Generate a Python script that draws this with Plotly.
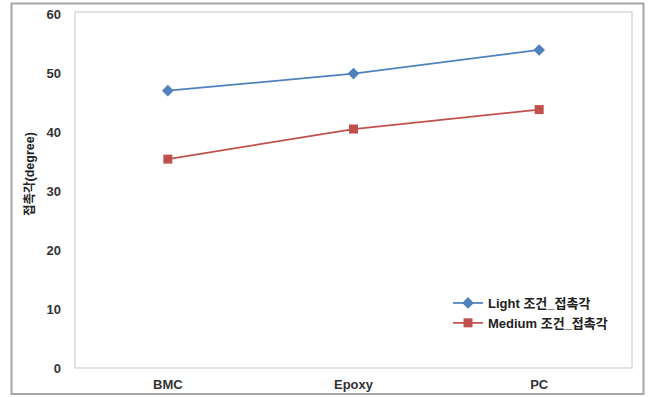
import plotly.graph_objects as go

categories = ["BMC", "Epoxy", "PC"]
light_values = [47.0, 49.9, 53.9]
medium_values = [35.4, 40.5, 43.8]
series_names = ["Light 조건_접촉각", "Medium 조건_접촉각"]
y_ticks = [0, 10, 20, 30, 40, 50, 60]
y_title = "접촉각(degree)"

W, H = 650, 397
L, R, T, B = 75, 18, 14, 29
pw, ph = W - L - R, H - T - B

def px_x(x):
    return (x - L) / pw

def px_y(y):
    return (H - B - y) / ph

font_family = "Liberation Sans, Arial, Noto Sans CJK KR, sans-serif"

fig = go.Figure()
fig.add_trace(go.Scatter(
    x=categories, y=light_values, name=series_names[0], mode="lines+markers",
    line=dict(color="#4F81BD", width=1.75),
    marker=dict(symbol="diamond", size=9, color="#4F81BD"),
))
fig.add_trace(go.Scatter(
    x=categories, y=medium_values, name=series_names[1], mode="lines+markers",
    line=dict(color="#C0504D", width=1.75),
    marker=dict(symbol="square", size=9, color="#C0504D"),
))

# plot area frame and outer chart frame
fig.add_shape(type="rect", xref="paper", yref="paper",
              x0=0, x1=1, y0=0, y1=px_y(12),
              line=dict(color="#d9d9d9", width=1.5), layer="below")
fig.add_shape(type="rect", xref="paper", yref="paper",
              x0=px_x(11.5), x1=px_x(643.5), y0=px_y(394), y1=px_y(3.5),
              line=dict(color="#a6a6a6", width=2), layer="below")

# vertical axis title
fig.add_annotation(
    text=y_title, xref="paper", yref="paper", x=px_x(30), y=px_y(174),
    xanchor="center", yanchor="middle", textangle=-90, showarrow=False,
    font=dict(size=12.5, color="#222222", weight="bold"),
)

fig.update_layout(
    width=W, height=H,
    margin=dict(l=L, r=R, t=T, b=B, pad=0),
    paper_bgcolor="white", plot_bgcolor="white",
    font=dict(family=font_family, size=13, color="#333333", weight="bold"),
    showlegend=True,
    legend=dict(
        x=px_x(448), y=px_y(288), xanchor="left", yanchor="top",
        bgcolor="rgba(0,0,0,0)", font=dict(size=13, color="#222222", weight="bold"),
        tracegroupgap=0, itemwidth=30,
    ),
    xaxis=dict(
        type="category", range=[-0.5, 2.5], showgrid=False, showline=False,
        zeroline=False, ticks="", automargin=False,
        tickfont=dict(size=13, color="#333333"), ticklabelstandoff=7,
    ),
    yaxis=dict(
        range=[0, 60], tickvals=y_ticks, showgrid=False, showline=False,
        zeroline=False, ticks="", automargin=False,
        tickfont=dict(size=13, color="#333333"), ticklabelstandoff=13,
    ),
)

fig.write_html("out.html")
